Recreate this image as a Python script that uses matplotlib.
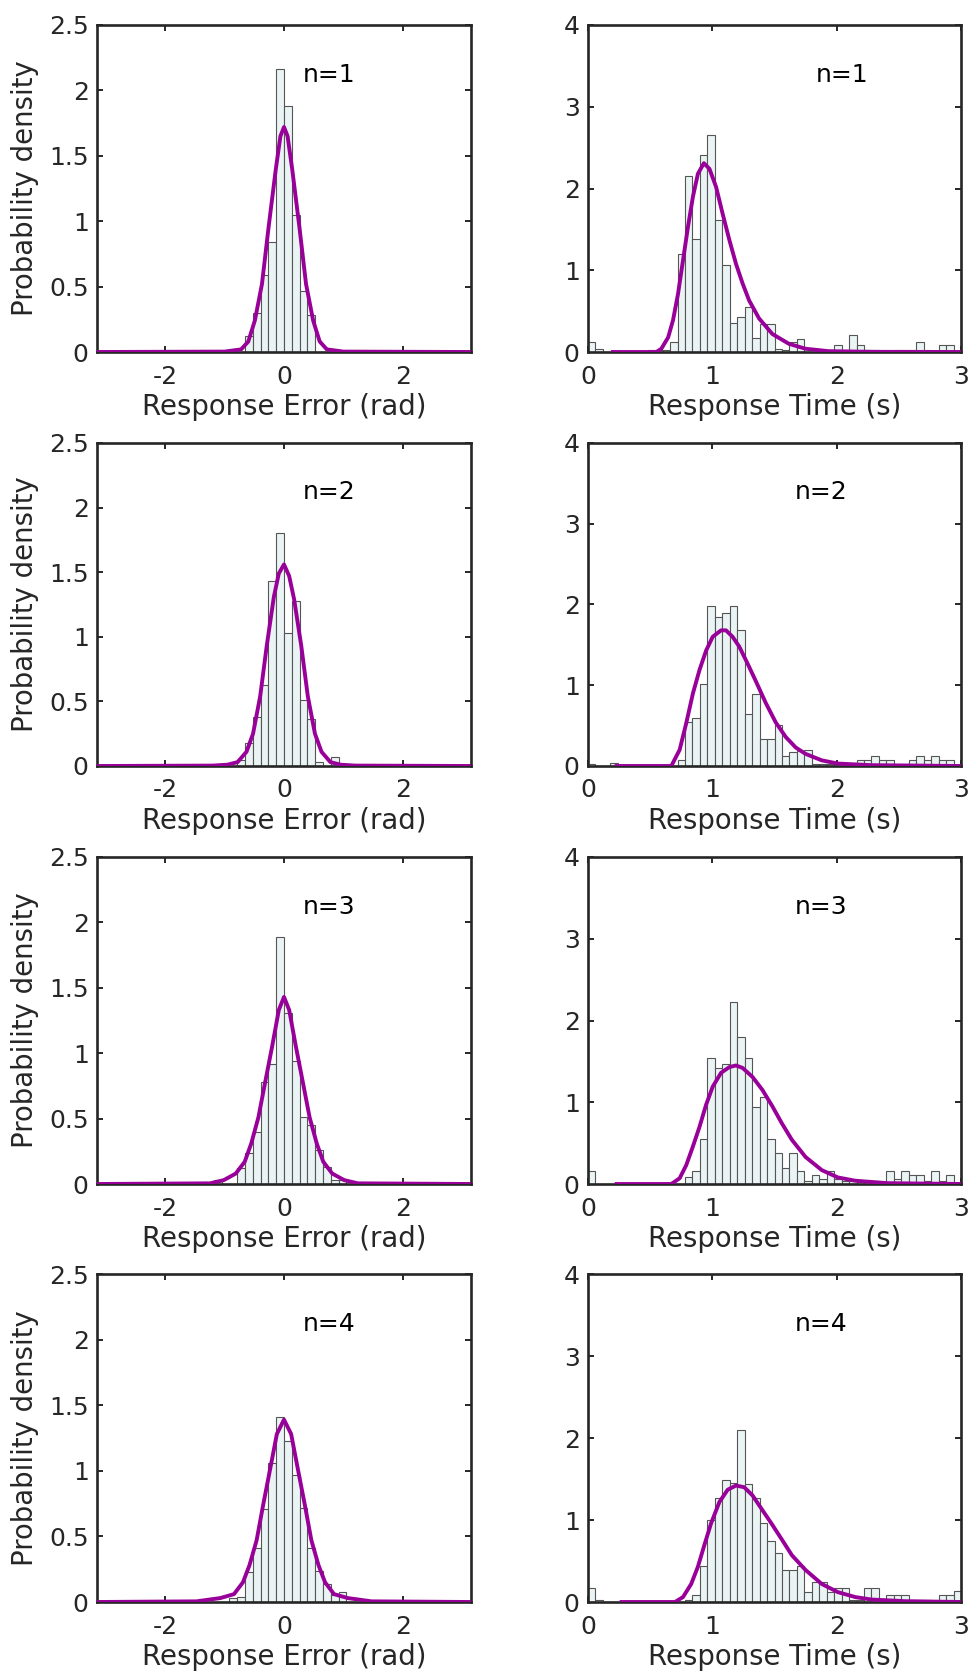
import numpy as np
import matplotlib
matplotlib.use('Agg')
import matplotlib.pyplot as plt
from matplotlib.ticker import FormatStrFormatter

# set sizes shown in the panels
set_sizes = [1, 2, 3, 4]

# response error histograms: 48 bins from -pi to pi (probability density)
err_hist_1 = [0]*19 + [0.12, 0.30, 0.59, 0.84, 2.16, 1.88, 1.05, 0.47, 0.28] + [0]*20
err_hist_2 = [0]*18 + [0.05, 0.18, 0.38, 0.63, 1.43, 1.80, 1.03, 1.28, 0.51, 0.36, 0.03, 0, 0.07] + [0]*17
err_hist_3 = [0]*15 + [0.03, 0, 0, 0.12, 0.24, 0.40, 0.78, 0.92, 1.89, 1.31, 0.94, 0.51, 0.45, 0.26, 0.13, 0.03, 0.03] + [0]*16
err_hist_4 = [0]*17 + [0.03, 0.04, 0.23, 0.41, 0.71, 1.06, 1.41, 1.23, 0.97, 0.72, 0.41, 0.24, 0.14, 0.05, 0.08] + [0]*16

# model fit for response error
err_fit_x_1 = [-3.14, -1.0, -0.72, -0.60, -0.49, -0.37, -0.26, -0.14, -0.06, 0, 0.06, 0.14, 0.26, 0.37, 0.49, 0.60, 0.72, 1.0, 3.14]
err_fit_y_1 = [0, 0.003, 0.02, 0.08, 0.24, 0.52, 0.95, 1.39, 1.65, 1.72, 1.65, 1.39, 0.95, 0.52, 0.24, 0.08, 0.02, 0.003, 0]
err_fit_x_2 = [-3.14, -1.2, -0.95, -0.78, -0.63, -0.52, -0.40, -0.29, -0.17, -0.087, 0, 0.087, 0.17, 0.29, 0.40, 0.52, 0.63, 0.78, 0.95, 1.2, 3.14]
err_fit_y_2 = [0, 0.003, 0.01, 0.03, 0.11, 0.25, 0.54, 0.93, 1.31, 1.49, 1.56, 1.47, 1.29, 0.93, 0.54, 0.25, 0.11, 0.03, 0.01, 0.003, 0]
err_fit_x_3 = [-3.14, -1.24, -1.01, -0.81, -0.66, -0.55, -0.43, -0.32, -0.20, -0.087, 0, 0.087, 0.20, 0.32, 0.43, 0.55, 0.66, 0.81, 1.01, 1.24, 3.14]
err_fit_y_3 = [0, 0.005, 0.03, 0.08, 0.17, 0.31, 0.51, 0.77, 1.05, 1.33, 1.43, 1.33, 1.05, 0.77, 0.51, 0.31, 0.17, 0.08, 0.03, 0.005, 0]
err_fit_x_4 = [-3.14, -1.47, -1.07, -0.84, -0.69, -0.58, -0.46, -0.35, -0.23, -0.12, 0, 0.12, 0.23, 0.35, 0.46, 0.58, 0.69, 0.84, 1.07, 1.47, 3.14]
err_fit_y_4 = [0, 0.005, 0.03, 0.06, 0.15, 0.28, 0.47, 0.74, 1.02, 1.28, 1.39, 1.28, 1.02, 0.74, 0.47, 0.28, 0.15, 0.06, 0.03, 0.005, 0]

# response time histograms: 50 bins from 0 to 3 s
rt_hist_1 = [0.12, 0.04, 0, 0, 0, 0, 0, 0, 0.03, 0.03, 0.03, 0.12, 1.2, 2.15, 1.38, 2.41, 2.66, 1.62, 1.07, 0.35,
             0.43, 0.55, 0.17, 0.34, 0.34, 0.04, 0.02, 0.12, 0.16, 0, 0, 0.03, 0, 0.08, 0.03, 0.21, 0.08, 0.03, 0.03, 0,
             0, 0.03, 0.03, 0.03, 0.12, 0.03, 0, 0.08, 0.08, 0]
rt_hist_2 = [0.03, 0, 0, 0.04, 0, 0, 0, 0, 0, 0, 0, 0, 0.07, 0.55, 0.59, 1.02, 1.98, 1.84, 1.89, 1.98,
             1.68, 0.64, 0.89, 0.33, 0.33, 0.51, 0.12, 0.17, 0.19, 0.20, 0.03, 0.03, 0.03, 0.03, 0, 0, 0.08, 0.08, 0.12, 0.08,
             0.08, 0, 0.03, 0.08, 0.12, 0.08, 0.12, 0.08, 0.08, 0]
rt_hist_3 = [0.16, 0, 0, 0, 0, 0, 0, 0, 0, 0, 0, 0, 0, 0.08, 0.16, 0.55, 1.54, 1.42, 1.47, 2.23,
             1.80, 1.54, 0.94, 1.07, 0.55, 0.38, 0.20, 0.38, 0.16, 0.04, 0.11, 0.06, 0.16, 0.06, 0.04, 0.04, 0.04, 0.04, 0, 0,
             0.16, 0.06, 0.16, 0.11, 0.11, 0.04, 0.16, 0.04, 0.11, 0]
rt_hist_4 = [0.17, 0.03, 0, 0, 0, 0, 0, 0, 0, 0, 0, 0, 0, 0.03, 0.08, 0.44, 1.0, 1.27, 1.49, 1.45,
             2.1, 1.44, 1.27, 0.96, 0.74, 0.60, 0.39, 0.39, 0.44, 0.12, 0.25, 0.25, 0.12, 0.17, 0.17, 0.03, 0.03, 0.17, 0.17, 0.03,
             0.08, 0.08, 0.08, 0.03, 0.03, 0.03, 0, 0.08, 0.08, 0.13]

# model fit for response time
rt_fit_x_1 = [0.2, 0.55, 0.59, 0.645, 0.684, 0.724, 0.764, 0.804, 0.844, 0.884, 0.932, 0.977, 1.03, 1.083, 1.137, 1.19,
              1.243, 1.296, 1.376, 1.483, 1.616, 1.749, 1.935, 2.3, 3.0]
rt_fit_y_1 = [0, 0, 0.04, 0.18, 0.39, 0.71, 1.12, 1.53, 1.90, 2.18, 2.31, 2.24, 2.02, 1.69, 1.37, 1.08,
              0.84, 0.63, 0.41, 0.22, 0.10, 0.04, 0.01, 0.002, 0]
rt_fit_x_2 = [0.23, 0.67, 0.737, 0.79, 0.844, 0.897, 0.95, 1.003, 1.07, 1.11, 1.163, 1.216, 1.283, 1.35, 1.43, 1.51,
              1.59, 1.67, 1.75, 1.88, 2.01, 2.28, 3.0]
rt_fit_y_2 = [0, 0, 0.2, 0.53, 0.9, 1.19, 1.43, 1.6, 1.68, 1.68, 1.6, 1.48, 1.27, 1.05, 0.78, 0.54,
              0.36, 0.23, 0.15, 0.07, 0.03, 0.01, 0]
rt_fit_x_3 = [0.23, 0.67, 0.737, 0.79, 0.844, 0.897, 0.95, 1.003, 1.07, 1.137, 1.19, 1.243, 1.323, 1.403, 1.483, 1.56,
              1.64, 1.75, 1.88, 2.01, 2.15, 2.41, 3.0]
rt_fit_y_3 = [0, 0, 0.07, 0.23, 0.46, 0.70, 0.97, 1.19, 1.36, 1.43, 1.45, 1.42, 1.31, 1.15, 0.95, 0.74,
              0.54, 0.33, 0.17, 0.08, 0.04, 0.01, 0]
rt_fit_x_4 = [0.27, 0.70, 0.764, 0.83, 0.884, 0.937, 0.99, 1.057, 1.124, 1.19, 1.256, 1.323, 1.403, 1.483, 1.56, 1.64,
              1.75, 1.88, 2.01, 2.15, 2.28, 2.55, 3.0]
rt_fit_y_4 = [0, 0, 0.06, 0.22, 0.43, 0.70, 0.96, 1.22, 1.37, 1.42, 1.40, 1.30, 1.12, 0.94, 0.76, 0.57,
              0.39, 0.22, 0.12, 0.06, 0.03, 0.01, 0]

err_hists = [err_hist_1, err_hist_2, err_hist_3, err_hist_4]
err_fits = [(err_fit_x_1, err_fit_y_1), (err_fit_x_2, err_fit_y_2), (err_fit_x_3, err_fit_y_3), (err_fit_x_4, err_fit_y_4)]
rt_hists = [rt_hist_1, rt_hist_2, rt_hist_3, rt_hist_4]
rt_fits = [(rt_fit_x_1, rt_fit_y_1), (rt_fit_x_2, rt_fit_y_2), (rt_fit_x_3, rt_fit_y_3), (rt_fit_x_4, rt_fit_y_4)]

err_edges = np.linspace(-np.pi, np.pi, 49)
rt_edges = np.linspace(0, 3, 51)

plt.rcParams['font.family'] = 'DejaVu Sans'
plt.rcParams['axes.unicode_minus'] = False
ink = '#262626'
bar_face = '#ebf4f4'
bar_edge = '#555555'
fit_col = '#990099'

fig = plt.figure(figsize=(9.71, 16.73), dpi=100)
W, H = 971.0, 1673.0

# axes boxes in pixels (left, right) and (top, bottom)
cols = [(97, 471), (588, 961)]
rows = [(25, 352), (443, 766), (857, 1184), (1274, 1602)]


def style(ax):
    for s in ax.spines.values():
        s.set_linewidth(1.9)
        s.set_color(ink)
    ax.tick_params(direction='in', length=4, width=1.4, colors=ink, labelsize=18,
                   top=True, right=True)
    ax.tick_params(axis='x', pad=9)
    ax.tick_params(axis='y', pad=6)


for i, n in enumerate(set_sizes):
    t, b = rows[i]
    # left column: response error
    l, r = cols[0]
    ax = fig.add_axes([l / W, 1 - b / H, (r - l) / W, (b - t) / H])
    ax.bar(err_edges[:-1], err_hists[i], width=np.diff(err_edges), align='edge',
           color=bar_face, edgecolor=bar_edge, linewidth=0.8, zorder=2)
    ax.plot(err_fits[i][0], err_fits[i][1], color=fit_col, linewidth=2.8, zorder=3)
    ax.set_xlim(-np.pi, np.pi)
    ax.set_ylim(0, 2.5)
    ax.set_xticks([-2, 0, 2])
    ax.set_yticks([0, 0.5, 1, 1.5, 2, 2.5])
    ax.yaxis.set_major_formatter(FormatStrFormatter('%g'))
    ax.set_xlabel('Response Error (rad)', fontsize=19.8, color=ink, labelpad=3)
    ax.set_ylabel('Probability density', fontsize=19.8, color=ink, labelpad=7)
    ax.text(0.32, 2.12, 'n=%d' % n, fontsize=18, color='black', va='center', ha='left')
    style(ax)

    # right column: response time
    l, r = cols[1]
    ax = fig.add_axes([l / W, 1 - b / H, (r - l) / W, (b - t) / H])
    ax.bar(rt_edges[:-1], rt_hists[i], width=np.diff(rt_edges), align='edge',
           color=bar_face, edgecolor=bar_edge, linewidth=0.8, zorder=2)
    ax.plot(rt_fits[i][0], rt_fits[i][1], color=fit_col, linewidth=2.8, zorder=3)
    ax.set_xlim(0, 3)
    ax.set_ylim(0, 4)
    ax.set_xticks([0, 1, 2, 3])
    ax.set_yticks([0, 1, 2, 3, 4])
    ax.set_xlabel('Response Time (s)', fontsize=19.8, color=ink, labelpad=3)
    tx = 1.83 if n == 1 else 1.66
    ax.text(tx, 3.39, 'n=%d' % n, fontsize=18, color='black', va='center', ha='left')
    style(ax)

fig.savefig('out.png', dpi=100)
